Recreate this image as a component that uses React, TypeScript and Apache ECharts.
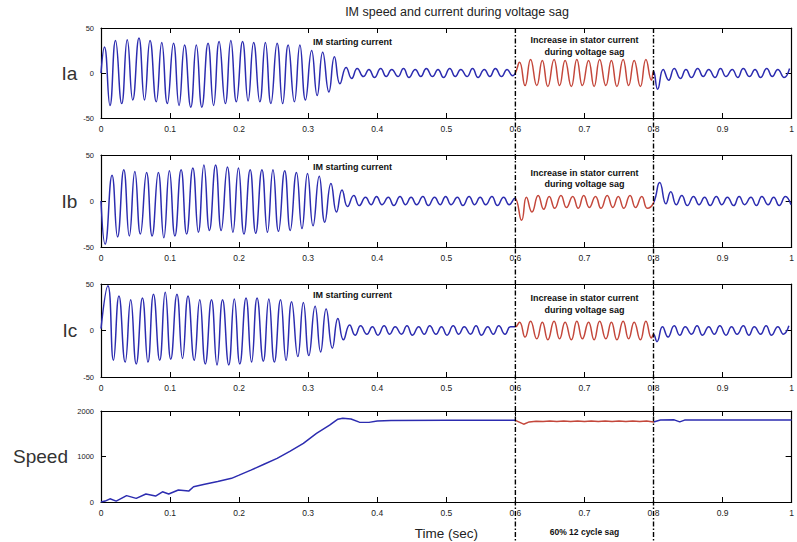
import React, { useEffect, useRef } from "react";
import * as echarts from "echarts";

const TITLE = "IM speed and current during voltage sag";
const PANEL_NAMES = ["Ia", "Ib", "Ic", "Speed"];
const X_NAME = "Time (sec)";
const NOTE_START = "IM starting current";
const NOTE_SAG = "Increase in stator current\nduring voltage sag";
const NOTE_BOTTOM = "60% 12 cycle sag";
const SAG_START = 0.6;
const SAG_END = 0.8;

// Ia extrema [time s, current]
const iaPoints: number[][] = [
  [0, 0],
  [0.005, 29], [0.013, -36], [0.021, 36], [0.030, -34], [0.038, 37], [0.046, -30],
  [0.055, 39], [0.063, -30], [0.071, 36], [0.080, -32], [0.088, 34], [0.096, -34],
  [0.105, 33], [0.113, -36], [0.121, 31], [0.130, -38], [0.138, 31], [0.146, -38],
  [0.155, 33], [0.163, -36], [0.171, 35], [0.180, -34], [0.188, 36], [0.196, -32],
  [0.205, 35], [0.213, -31], [0.221, 34], [0.230, -32], [0.238, 34], [0.246, -34],
  [0.255, 33], [0.263, -34], [0.271, 31], [0.280, -32], [0.288, 31], [0.296, -30],
  [0.305, 25], [0.313, -25], [0.321, 23], [0.330, -21], [0.338, 18], [0.346, -12],
  [0.355, 6], [0.363, -6], [0.371, 5], [0.380, -4], [0.388, 4], [0.396, -5],
  [0.405, 5], [0.413, -4], [0.421, 4], [0.430, -4], [0.438, 5], [0.446, -5],
  [0.455, 4], [0.463, -4], [0.471, 5], [0.480, -4], [0.488, 4], [0.496, -5],
  [0.505, 5], [0.513, -4], [0.521, 4], [0.530, -4], [0.538, 5], [0.546, -5],
  [0.555, 4], [0.563, -4], [0.571, 5], [0.580, -4], [0.588, 4], [0.596, -3],
  [0.600, 0],
  [0.606, 12], [0.614, -14], [0.622, 15], [0.631, -14], [0.639, 14], [0.647, -15],
  [0.656, 15], [0.664, -14], [0.672, 14], [0.681, -15], [0.689, 15], [0.697, -14],
  [0.706, 14], [0.714, -15], [0.722, 15], [0.731, -14], [0.739, 14], [0.747, -15],
  [0.756, 15], [0.764, -14], [0.772, 14], [0.781, -15], [0.789, 15], [0.797, -8],
  [0.800, 2],
  [0.806, -18], [0.814, 4], [0.822, -8], [0.830, 5], [0.839, -6], [0.847, 4],
  [0.855, -5], [0.864, 5], [0.872, -4], [0.880, 4], [0.889, -5], [0.897, 5],
  [0.905, -4], [0.914, 4], [0.922, -5], [0.930, 5], [0.939, -4], [0.947, 4],
  [0.955, -5], [0.964, 5], [0.972, -4], [0.980, 4], [0.989, -5], [0.997, 5],
];

const ibPoints: number[][] = [
  [0, 0], [0.006, -47],
  [0.016, 28], [0.024, -39], [0.033, 34], [0.041, -38], [0.049, 32], [0.057, -36],
  [0.066, 31], [0.074, -38], [0.083, 31], [0.091, -40], [0.099, 33], [0.107, -38],
  [0.116, 34], [0.124, -36], [0.133, 36], [0.141, -34], [0.149, 39], [0.157, -32],
  [0.166, 39], [0.174, -32], [0.183, 37], [0.191, -34], [0.199, 36], [0.207, -36],
  [0.216, 34], [0.224, -35], [0.233, 34], [0.241, -34], [0.249, 34], [0.257, -33],
  [0.266, 33], [0.274, -32], [0.283, 31], [0.291, -30], [0.299, 30], [0.307, -27],
  [0.316, 27], [0.324, -23], [0.333, 19], [0.341, -12], [0.349, 12], [0.357, -6],
  [0.366, 6], [0.374, -5], [0.383, 4], [0.391, -4], [0.399, 5], [0.407, -4],
  [0.416, 4], [0.424, -5], [0.433, 5], [0.441, -4], [0.449, 4], [0.457, -4],
  [0.466, 5], [0.474, -5], [0.483, 4], [0.491, -4], [0.499, 5], [0.507, -4],
  [0.516, 4], [0.524, -5], [0.533, 5], [0.541, -4], [0.549, 4], [0.557, -4],
  [0.566, 5], [0.574, -5], [0.583, 4], [0.591, -4], [0.599, 3],
  [0.609, -21], [0.616, 4], [0.624, -12], [0.633, 6], [0.641, -9], [0.649, 5],
  [0.657, -8], [0.666, 6], [0.674, -7], [0.683, 5], [0.691, -8], [0.699, 6],
  [0.707, -7], [0.716, 5], [0.724, -8], [0.733, 6], [0.741, -7], [0.749, 5],
  [0.757, -8], [0.766, 6], [0.774, -7], [0.783, 5], [0.791, -8], [0.800, -2],
  [0.809, 20], [0.818, -3], [0.825, 10], [0.833, -4], [0.841, 6], [0.849, -5],
  [0.858, 5], [0.866, -4], [0.874, 4], [0.882, -5], [0.891, 5], [0.899, -4],
  [0.907, 4], [0.916, -5], [0.924, 5], [0.932, -4], [0.941, 4], [0.949, -5],
  [0.957, 5], [0.966, -4], [0.974, 4], [0.982, -5], [0.991, 5], [0.999, -4],
];

const icPoints: number[][] = [
  [0, 2],
  [0.010, 48], [0.018, -32], [0.026, 37], [0.035, -34], [0.043, 33], [0.051, -36],
  [0.060, 35], [0.068, -34], [0.076, 39], [0.085, -32], [0.093, 41], [0.101, -31],
  [0.110, 39], [0.118, -30], [0.126, 37], [0.135, -32], [0.143, 33], [0.151, -36],
  [0.160, 33], [0.168, -37], [0.176, 33], [0.185, -37], [0.193, 34], [0.201, -36],
  [0.210, 35], [0.218, -34], [0.226, 35], [0.235, -33], [0.243, 34], [0.251, -34],
  [0.260, 33], [0.268, -32], [0.276, 31], [0.285, -28], [0.293, 30], [0.301, -27],
  [0.310, 26], [0.318, -23], [0.326, 23], [0.335, -19], [0.343, 13], [0.351, -10],
  [0.360, 6], [0.368, -5], [0.376, 5], [0.385, -4], [0.393, 4], [0.401, -5],
  [0.410, 5], [0.418, -4], [0.426, 4], [0.435, -4], [0.443, 5], [0.451, -5],
  [0.460, 4], [0.468, -4], [0.476, 5], [0.485, -4], [0.493, 4], [0.501, -5],
  [0.510, 5], [0.518, -4], [0.526, 4], [0.535, -4], [0.543, 5], [0.551, -5],
  [0.560, 4], [0.568, -4], [0.576, 5], [0.585, -4], [0.593, 4],
  [0.600, 4],
  [0.606, 9], [0.614, -7], [0.622, 10], [0.631, -9], [0.639, 9], [0.647, -10],
  [0.656, 10], [0.664, -9], [0.672, 9], [0.681, -10], [0.689, 10], [0.697, -9],
  [0.706, 9], [0.714, -10], [0.722, 10], [0.731, -9], [0.739, 9], [0.747, -10],
  [0.756, 10], [0.764, -9], [0.772, 9], [0.781, -10], [0.789, 10], [0.797, -8],
  [0.800, -4],
  [0.805, -12], [0.813, 4], [0.821, -7], [0.830, 5], [0.838, -5], [0.846, 4],
  [0.855, -4], [0.863, 5], [0.871, -5], [0.880, 4], [0.888, -4], [0.896, 5],
  [0.905, -5], [0.913, 4], [0.921, -4], [0.930, 5], [0.938, -5], [0.946, 4],
  [0.955, -4], [0.963, 5], [0.971, -5], [0.980, 4], [0.988, -4], [0.996, 5],
];

const speedPoints: number[][] = [
  [0, 0], [0.006, 20], [0.013, 70], [0.022, 20], [0.037, 140], [0.051, 80],
  [0.065, 175], [0.079, 130], [0.089, 225], [0.098, 175], [0.112, 265], [0.127, 240],
  [0.134, 335], [0.15, 390], [0.169, 450], [0.189, 520], [0.2, 590], [0.217, 700],
  [0.236, 830], [0.255, 960], [0.274, 1120], [0.293, 1290], [0.312, 1510], [0.331, 1690],
  [0.343, 1820], [0.35, 1840], [0.362, 1825], [0.374, 1755], [0.388, 1750], [0.4, 1780],
  [0.42, 1790], [0.5, 1795], [0.6, 1795],
  [0.612, 1710], [0.62, 1760], [0.63, 1775], [0.64, 1768], [0.65, 1778], [0.66, 1770],
  [0.67, 1778], [0.68, 1770], [0.69, 1778], [0.7, 1770], [0.71, 1778], [0.72, 1770],
  [0.73, 1778], [0.74, 1770], [0.75, 1778], [0.76, 1770], [0.77, 1778], [0.78, 1770],
  [0.79, 1778], [0.8, 1760],
  [0.81, 1800], [0.83, 1805], [0.838, 1760], [0.845, 1800], [0.9, 1800], [1, 1800],
];

const yMins = [-50, -50, -50, 0];
const yMaxs = [50, 50, 50, 2000];
const yIntervals = [50, 50, 50, 1000];
const nameGaps = [14, 19, 19, 33];
const gridTops = [28, 155, 284, 411];
const gridHeights = [90, 92, 93, 91];
// annotation anchor values [time, value] per current panel
const startNoteAt = [[0.307, 34], [0.307, 37], [0.307, 38]];
const sagNoteAt = [[0.7, 43], [0.7, 37], [0.7, 41]];

const BLUE = "#2c2cb0";
const RED = "#c4473b";
const FONT = "'Liberation Sans', Arial, sans-serif";

export default function App() {
  const ref = useRef<HTMLDivElement>(null);
  useEffect(() => {
    if (!ref.current) return;
    const chart = echarts.init(ref.current, undefined, { renderer: "svg" });
    const grids = gridTops.map((t, i) => ({ left: 101, width: 699, top: t, height: gridHeights[i] }));
    const xAxes: any[] = [];
    const yAxes: any[] = [];
    for (let i = 0; i < 4; i++) {
      xAxes.push({
        type: "value", gridIndex: i, min: 0, max: 1, interval: 0.1, position: "bottom",
        axisLine: { show: true, onZero: false, lineStyle: { color: "#000", width: 1.2 } },
        axisTick: { show: true, inside: true, length: 5, lineStyle: { color: "#000" } },
        axisLabel: { show: true, fontSize: 8.5, color: "#222", margin: 6, fontFamily: FONT },
        splitLine: { show: false },
        name: i === 3 ? X_NAME : "",
        nameLocation: "middle", nameGap: 24,
        nameTextStyle: { fontSize: 13.5, color: "#222", fontFamily: FONT },
      });
      yAxes.push({
        type: "value", gridIndex: i, min: yMins[i], max: yMaxs[i], interval: yIntervals[i], position: "left",
        axisLine: { show: true, onZero: false, lineStyle: { color: "#000", width: 1.2 } },
        axisTick: { show: true, inside: true, length: 5, lineStyle: { color: "#000" } },
        axisLabel: { show: true, fontSize: 7.5, color: "#222", margin: 7, fontFamily: FONT, formatter: (v: number) => String(v) },
        splitLine: { show: false },
        name: PANEL_NAMES[i], nameLocation: "middle", nameRotate: 0, nameGap: nameGaps[i],
        nameTextStyle: { fontSize: 19, color: "#333", fontFamily: FONT, align: "right", verticalAlign: "middle" },
      });
    }
    for (let i = 0; i < 4; i++) {
      xAxes.push({
        type: "value", gridIndex: i, min: 0, max: 1, interval: 0.1, position: "top",
        axisLine: { show: true, onZero: false, lineStyle: { color: "#000", width: 1.2 } },
        axisTick: { show: true, inside: true, length: 5, lineStyle: { color: "#000" } },
        axisLabel: { show: false }, splitLine: { show: false },
      });
      yAxes.push({
        type: "value", gridIndex: i, min: yMins[i], max: yMaxs[i], interval: yIntervals[i], position: "right",
        axisLine: { show: true, onZero: false, lineStyle: { color: "#000", width: 1.2 } },
        axisTick: { show: true, inside: true, length: 6, lineStyle: { color: "#000" } },
        axisLabel: { show: false }, splitLine: { show: false },
      });
    }
    const datasets = [iaPoints, ibPoints, icPoints, speedPoints];
    const series = datasets.map((d, i) => ({
      type: "line", xAxisIndex: i, yAxisIndex: i, data: d, showSymbol: false, symbol: "none",
      smooth: i < 3 ? 0.5 : false,
      lineStyle: { width: 1.5 },
      silent: true,
    }));
    chart.setOption({
      animation: false,
      backgroundColor: "#fff",
      title: {
        text: TITLE, left: 452, top: 0, textAlign: "center",
        textStyle: { fontSize: 12.5, fontWeight: "normal", color: "#222", fontFamily: FONT },
      },
      grid: grids,
      xAxis: xAxes,
      yAxis: yAxes,
      visualMap: [{
        type: "piecewise", show: false, dimension: 0, seriesIndex: [0, 1, 2, 3],
        pieces: [{ gte: SAG_START, lte: SAG_END, color: RED }],
        outOfRange: { color: BLUE },
      }],
      series,
    });

    const px = (axis: number, v: number) => chart.convertToPixel({ xAxisIndex: axis }, v) as number;
    const py = (axis: number, v: number) => chart.convertToPixel({ yAxisIndex: axis }, v) as number;
    const topY = py(0, yMaxs[0]);
    const graphics: any[] = [];
    [SAG_START, SAG_END].forEach((t) => {
      const x = px(0, t);
      graphics.push({
        type: "line", z: 100, silent: true,
        shape: { x1: x, y1: topY, x2: x, y2: 542 },
        style: { stroke: "#000", lineWidth: 1.4, lineDash: [5, 2, 1.5, 2] },
      });
    });
    for (let i = 0; i < 3; i++) {
      graphics.push({
        type: "text", z: 101, silent: true,
        x: px(i, startNoteAt[i][0]), y: py(i, startNoteAt[i][1]),
        style: { text: NOTE_START, font: `bold 9px ${FONT}`, fill: "#111", align: "left", verticalAlign: "middle" },
      });
      graphics.push({
        type: "text", z: 101, silent: true,
        x: px(i, sagNoteAt[i][0]), y: py(i, sagNoteAt[i][1]),
        style: { text: NOTE_SAG, font: `bold 9px ${FONT}`, fill: "#111", align: "center", verticalAlign: "top", lineHeight: 11.5 },
      });
    }
    graphics.push({
      type: "text", z: 101, silent: true,
      x: px(3, 0.7), y: 532,
      style: { text: NOTE_BOTTOM, font: `bold 8.5px ${FONT}`, fill: "#111", align: "center", verticalAlign: "middle" },
    });
    chart.setOption({ graphic: graphics });
    return () => chart.dispose();
  }, []);
  return <div ref={ref} style={{ position: "absolute", left: 0, top: 0, width: 797, height: 542 }} />;
}
